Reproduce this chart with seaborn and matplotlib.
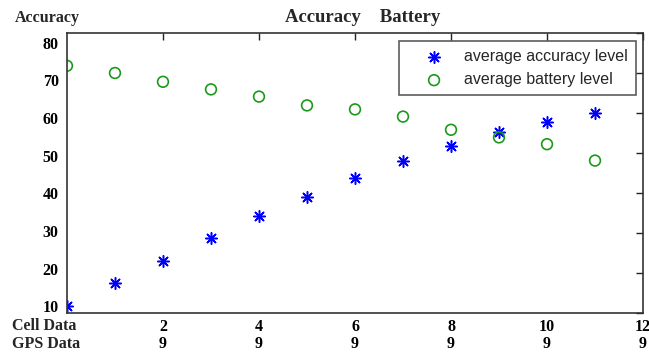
import matplotlib
matplotlib.use("Agg")
import matplotlib.pyplot as plt
import matplotlib.transforms as mtransforms
import seaborn as sns
import pandas as pd

x_vals = list(range(12))
accuracy = [11.8, 17.4, 23.1, 28.8, 34.2, 39.0, 43.8, 48.0, 51.8, 55.3, 57.8, 60.0]
battery = [71.8, 70.0, 67.8, 65.9, 64.1, 61.9, 60.9, 59.1, 55.8, 53.9, 52.2, 48.1]
cell_ticks = [2, 4, 6, 8, 10, 12]
gps_labels = ["9", "9", "9", "9", "9", "9"]
y_ticks = [10, 20, 30, 40, 50, 60, 70, 80]
series_names = ["average accuracy level", "average battery level"]

sns.set_style("white")
plt.rcParams['font.family'] = ['Liberation Serif', 'DejaVu Serif']

df = pd.concat([
    pd.DataFrame({"x": x_vals, "y": accuracy, "series": series_names[0]}),
    pd.DataFrame({"x": x_vals, "y": battery, "series": series_names[1]}),
])

fig = plt.figure(figsize=(6.49, 3.54), dpi=100)
ax = fig.add_axes([0.1032, 0.1158, 0.8876, 0.791])

acc = df[df.series == series_names[0]]
bat = df[df.series == series_names[1]]
sns.scatterplot(data=acc, x="x", y="y", ax=ax, marker=(8, 2, 0), s=70, color="#0000ff",
                edgecolor="#0000ff", linewidth=1.1, label=series_names[0])
sns.scatterplot(data=bat, x="x", y="y", ax=ax, marker="o", s=60, facecolor="none",
                edgecolor="#1a9a1a", linewidth=1.2, label=series_names[1])

ax.set_xlim(0, 12)
ax.set_ylim(10, 80)
ax.set_xticks(cell_ticks)
ax.set_xticklabels([f"{c}\n{g}" for c, g in zip(cell_ticks, gps_labels)],
                   fontsize=11.5, fontweight="bold", linespacing=1.08)
ax.set_yticks(y_ticks)
ax.set_yticklabels([str(v) for v in y_ticks], fontsize=11.5, fontweight="bold")
ax.set_xlabel("")
ax.set_ylabel("")
ax.tick_params(direction="in", length=5, width=1, top=True, right=True,
               colors="#222222", labelcolor="black")
ax.tick_params(axis="x", pad=4)
ax.tick_params(axis="y", pad=6)
# the reference's y labels sit on a slightly compressed scale relative to the ticks
for lbl, v in zip(ax.get_yticklabels(), y_ticks):
    off_px = 9.6 - (80 - v) * 0.233
    lbl.set_transform(lbl.get_transform() +
                      mtransforms.ScaledTranslation(0, -off_px / 100, fig.dpi_scale_trans))
for sp in ax.spines.values():
    sp.set_color("#333333")
    sp.set_linewidth(1.2)

fig.text(12 / 649, 1 - 326 / 354, "Cell Data", fontsize=11.5, fontweight="bold", va="center", ha="left")
fig.text(12 / 649, 1 - 343.5 / 354, "GPS Data", fontsize=11.5, fontweight="bold", va="center", ha="left")
fig.text(15 / 649, 1 - 18 / 354, "Accuracy", fontsize=11.5, fontweight="bold", va="center", ha="left")
fig.text(363 / 649, 1 - 18 / 354, "Accuracy    Battery", fontsize=13.5, fontweight="bold", va="center", ha="center")

leg = ax.legend(loc="upper right", bbox_to_anchor=(0.988, 0.97), frameon=True, fancybox=False,
                prop={"family": "Liberation Sans", "size": 11.5}, handletextpad=0.2,
                borderpad=0.5, labelspacing=0.5, handlelength=3.4, borderaxespad=0)
leg.get_frame().set_edgecolor("#333333")
leg.get_frame().set_linewidth(1.2)

fig.savefig("out.png", dpi=100)
